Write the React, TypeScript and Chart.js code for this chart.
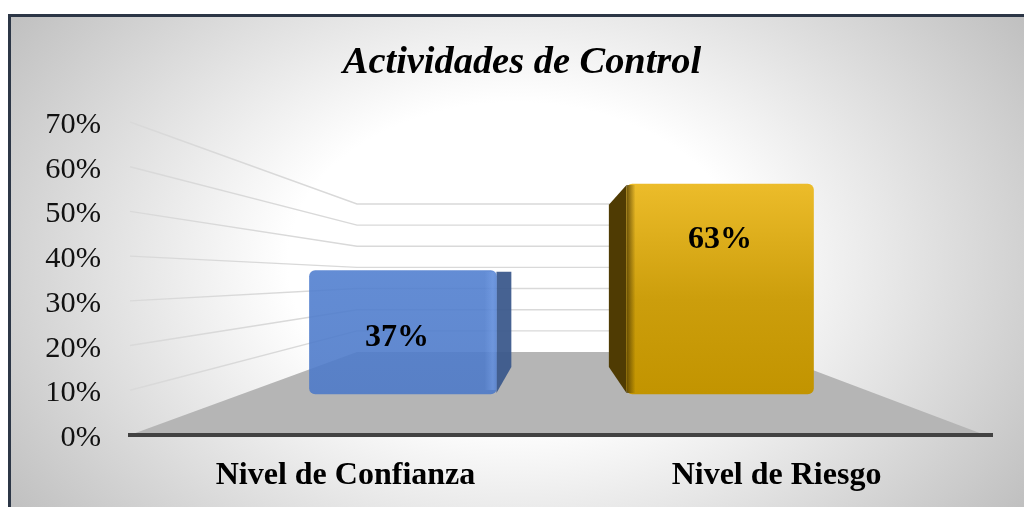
import React, { useEffect, useRef } from "react";
import { Chart, registerables } from "chart.js";

Chart.register(...registerables);

const chartTitle = "Actividades de Control";
const categories = ["Nivel de Confianza", "Nivel de Riesgo"];
const values = [37, 63];
const axisMax = 70;
const axisStep = 10;

const SERIF = '"Liberation Serif", "Times New Roman", serif';

// Perspective of the fake 3-D box
const FLOOR_BACK_Y = 352;
const WALL_LEFT_X = 357;
const WALL_RIGHT_X = 765;
const FLOOR_RIGHT_X = 985;
const WALL_RATIO = 0.473;
const VANISH_X = 556;
const VANISH_Y = 275;
const DEPTH_X = 0.25;
const DEPTH_Y = 0.227;

const scenePlugin = {
  id: "scene",
  afterLayout(chart: any) {
    // keep the long tick labels from being clipped to the axis box
    chart.scales.y.left = 0;
  },
  beforeDraw(chart: any) {
    const { ctx, width, height } = chart;
    ctx.save();
    ctx.fillStyle = "#ffffff";
    ctx.fillRect(0, 0, width, height);
    const cx = 516;
    const cy = 262;
    const sy = 0.7;
    ctx.save();
    ctx.beginPath();
    ctx.rect(9, 15, width - 9, height - 15);
    ctx.clip();
    ctx.translate(cx, cy);
    ctx.scale(1, sy);
    const g = ctx.createRadialGradient(0, 0, 0, 0, 0, 621);
    g.addColorStop(0, "#ffffff");
    g.addColorStop(0.367, "#ffffff");
    g.addColorStop(1, "#bfbfbf");
    ctx.fillStyle = g;
    ctx.fillRect(-cx, -cy / sy, width, height / sy);
    ctx.restore();
    ctx.fillStyle = "#2c3646";
    ctx.fillRect(8, 14, width - 8, 3);
    ctx.fillRect(8, 14, 3, height - 14);
    ctx.restore();
  },
  beforeDatasetsDraw(chart: any) {
    const { ctx, chartArea, scales } = chart;
    const y = scales.y;
    const base = chartArea.bottom;
    ctx.save();
    // Floor
    ctx.fillStyle = "#b5b5b5";
    ctx.beginPath();
    ctx.moveTo(chartArea.left, base);
    ctx.lineTo(WALL_LEFT_X, FLOOR_BACK_Y);
    ctx.lineTo(WALL_RIGHT_X, FLOOR_BACK_Y);
    ctx.lineTo(FLOOR_RIGHT_X, base);
    ctx.closePath();
    ctx.fill();
    // Wall gridlines
    ctx.strokeStyle = "#d9d9d9";
    ctx.lineWidth = 1.4;
    for (let v = axisStep; v <= axisMax; v += axisStep) {
      const py = y.getPixelForValue(v);
      const wy = FLOOR_BACK_Y - (base - py) * WALL_RATIO;
      ctx.beginPath();
      ctx.moveTo(chartArea.left, py);
      ctx.lineTo(WALL_LEFT_X, wy);
      ctx.lineTo(WALL_RIGHT_X, wy);
      ctx.stroke();
    }
    // Side faces of the bars
    const bars = chart.getDatasetMeta(0).data;
    bars.forEach((bar: any, i: number) => {
      const { x, y: top, base: bottom, width } = bar.getProps(["x", "y", "base", "width"], true);
      const onRight = x < VANISH_X;
      const edge = onRight ? x + width / 2 : x - width / 2;
      const outer = edge + (VANISH_X - edge) * DEPTH_X;
      const topOuter = top + (VANISH_Y - top) * DEPTH_Y;
      const botOuter = bottom + (VANISH_Y - bottom) * DEPTH_Y;
      ctx.beginPath();
      ctx.moveTo(edge, top + 1);
      ctx.lineTo(outer, Math.min(topOuter, top + 21));
      ctx.lineTo(outer, botOuter);
      ctx.lineTo(edge, bottom - 1);
      ctx.closePath();
      ctx.fillStyle = i === 0 ? "rgba(60,90,140,0.95)" : "#4f3b03";
      ctx.fill();
    });
    ctx.restore();
  },
  afterDatasetsDraw(chart: any) {
    const { ctx } = chart;
    const bars = chart.getDatasetMeta(0).data;
    ctx.save();
    bars.forEach((bar: any, i: number) => {
      const { x, y: top, base: bottom, width } = bar.getProps(["x", "y", "base", "width"], true);
      const left = x - width / 2;
      const right = x + width / 2;
      if (i === 0) {
        const g = ctx.createLinearGradient(right - 12, 0, right, 0);
        g.addColorStop(0, "rgba(130,170,240,0)");
        g.addColorStop(0.7, "rgba(130,170,240,0.4)");
        g.addColorStop(1, "rgba(130,170,240,0.15)");
        ctx.fillStyle = g;
        ctx.fillRect(right - 12, top + 1, 12, bottom - top - 5);
      } else {
        const g = ctx.createLinearGradient(left - 2, 0, left + 9, 0);
        g.addColorStop(0, "rgba(79,59,3,1)");
        g.addColorStop(1, "rgba(79,59,3,0)");
        ctx.fillStyle = g;
        ctx.fillRect(left, top + 1, 9, bottom - top - 2);
      }
    });
    // Value labels
    ctx.fillStyle = "#000000";
    ctx.font = `bold 32px ${SERIF}`;
    ctx.textAlign = "center";
    ctx.textBaseline = "middle";
    bars.forEach((bar: any, i: number) => {
      const { x, y: top, base: bottom } = bar.getProps(["x", "y", "base"], true);
      const lx = i === 0 ? x - 6 : x;
      const ly = i === 0 ? (top + bottom) / 2 + 5 : top + 56;
      ctx.fillText(`${values[i]}%`, lx, ly);
    });
    ctx.restore();
  },
};

function barFill(context: any) {
  const { chart, dataIndex } = context;
  if (!chart.chartArea) return "#4f7dcb";
  const yBar = chart.scales.yBar;
  const top = yBar.getPixelForValue(values[dataIndex]);
  const bottom = yBar.getPixelForValue(0);
  const g = chart.ctx.createLinearGradient(0, top, 0, bottom);
  if (dataIndex === 0) {
    g.addColorStop(0, "rgba(82,128,208,0.9)");
    g.addColorStop(1, "rgba(78,122,200,0.9)");
  } else {
    g.addColorStop(0, "#ecbc2a");
    g.addColorStop(0.55, "#cc9e0c");
    g.addColorStop(1, "#c29400");
  }
  return g;
}

export default function App() {
  const ref = useRef<HTMLCanvasElement>(null);
  useEffect(() => {
    if (!ref.current) return;
    const chart = new Chart(ref.current, {
      type: "bar",
      data: {
        labels: categories,
        datasets: [
          {
            label: chartTitle,
            data: values.map((v, i) => ({ x: i, y: v })),
            xAxisID: "xBar",
            yAxisID: "yBar",
            backgroundColor: barFill,
            borderWidth: 0,
            borderRadius: 6,
            borderSkipped: false,
            barThickness: 187,
          },
        ],
      },
      plugins: [scenePlugin],
      options: {
        responsive: false,
        animation: false,
        layout: { padding: { left: 52, right: 32, top: 0, bottom: 0 } },
        plugins: {
          legend: { display: false },
          tooltip: { enabled: false },
          title: {
            display: true,
            text: chartTitle,
            color: "#000000",
            font: { family: SERIF, size: 38.4, weight: "bold", style: "italic", lineHeight: 1.2 },
            padding: { top: 40, bottom: 35.9 },
          },
        },
        scales: {
          x: {
            type: "category",
            labels: categories,
            offset: true,
            grid: { display: false, drawTicks: false },
            border: { display: true, color: "#424242", width: 4, z: 1 },
            ticks: {
              color: "#000000",
              font: { family: SERIF, size: 32, weight: "bold" },
              padding: 22,
              maxRotation: 0,
              autoSkip: false,
            },
            afterFit(scale: any) {
              scale.height = 72;
            },
          },
          y: {
            type: "linear",
            min: 0,
            max: axisMax,
            grid: { display: false, drawTicks: false },
            border: { display: false },
            ticks: {
              stepSize: axisStep,
              color: "#111111",
              font: { family: SERIF, size: 30.4 },
              padding: 29,
              labelOffset: 3,
              callback: (v: any) => `${v}%`,
            },
            afterFit(scale: any) {
              scale.width = 78;
            },
          },
          // Hidden axes for the bars, which stand further back on the floor
          xBar: { type: "linear", display: false, offset: false, min: -0.861, max: 1.858, grid: { display: false } },
          yBar: { type: "linear", position: "left", display: false, min: -12.3, max: 81.6, grid: { display: false } },
        },
      } as any,
    });
    return () => chart.destroy();
  }, []);
  return (
    <canvas
      ref={ref}
      width={1024}
      height={507}
      style={{ position: "absolute", left: 0, top: 0, width: 1024, height: 507, display: "block" }}
    />
  );
}
